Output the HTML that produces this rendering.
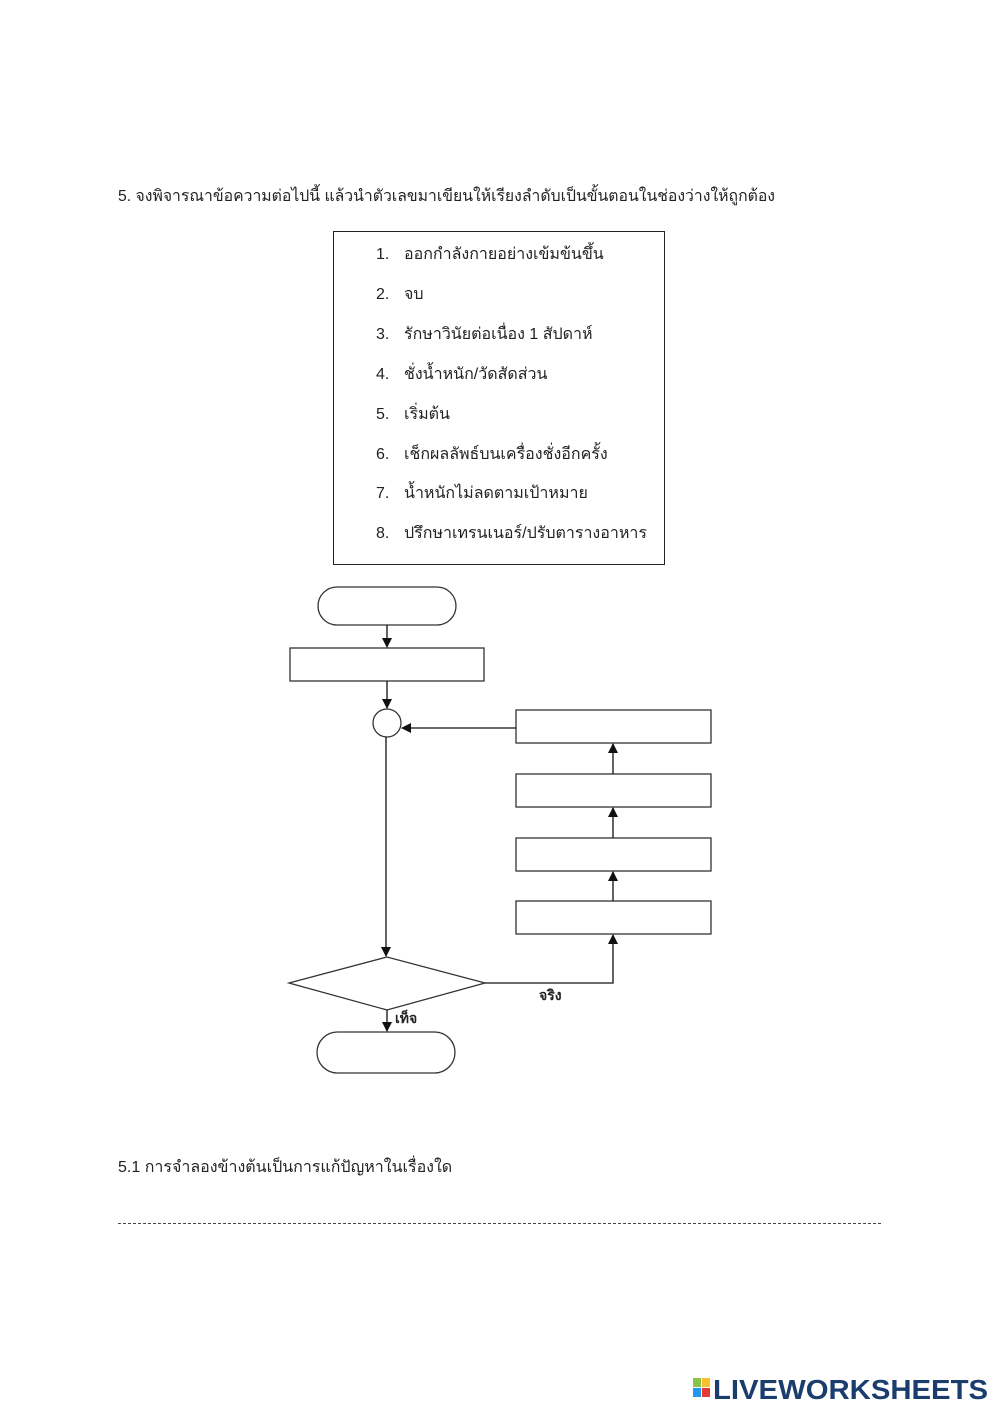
<!DOCTYPE html>
<html><head><meta charset="utf-8"><style>
html,body{margin:0;padding:0;background:#fff;}
svg{display:block;}
text{font-family:"Liberation Sans","DejaVu Sans","Noto Sans CJK SC",sans-serif;fill:#222;}
</style></head><body>
<svg width="1000" height="1414" viewBox="0 0 1000 1414" xmlns="http://www.w3.org/2000/svg">
<defs><marker id="a" markerWidth="10" markerHeight="10" refX="9" refY="5" orient="auto" markerUnits="userSpaceOnUse"><path d="M0,0 L10,5 L0,10 z" fill="#111"/></marker></defs>
<text x="118" y="201" font-size="16" textLength="657" lengthAdjust="spacingAndGlyphs">5. จงพิจารณาข้อความต่อไปนี้ แล้วนำตัวเลขมาเขียนให้เรียงลำดับเป็นขั้นตอนในช่องว่างให้ถูกต้อง</text>
<rect x="333.5" y="231.5" width="331" height="333" fill="none" stroke="#222"/>
<g font-size="16">
<text x="376" y="259">1.</text><text x="404" y="259">ออกกำลังกายอย่างเข้มข้นขึ้น</text>
<text x="376" y="299">2.</text><text x="404" y="299">จบ</text>
<text x="376" y="339">3.</text><text x="404" y="339">รักษาวินัยต่อเนื่อง 1 สัปดาห์</text>
<text x="376" y="379">4.</text><text x="404" y="379">ชั่งน้ำหนัก/วัดสัดส่วน</text>
<text x="376" y="419">5.</text><text x="404" y="419">เริ่มต้น</text>
<text x="376" y="459">6.</text><text x="404" y="459">เช็กผลลัพธ์บนเครื่องชั่งอีกครั้ง</text>
<text x="376" y="498">7.</text><text x="404" y="498">น้ำหนักไม่ลดตามเป้าหมาย</text>
<text x="376" y="538">8.</text><text x="404" y="538">ปรึกษาเทรนเนอร์/ปรับตารางอาหาร</text>
</g>
<g stroke="#333" stroke-width="1.3" fill="#fff">
<rect x="318" y="587" width="138" height="38" rx="19"/>
<rect x="290" y="648" width="194" height="33"/>
<circle cx="387" cy="723" r="14"/>
<rect x="516" y="710" width="195" height="33"/>
<rect x="516" y="774" width="195" height="33"/>
<rect x="516" y="838" width="195" height="33"/>
<rect x="516" y="901" width="195" height="33"/>
<polygon points="289,983 387,957 485,983 387,1010"/>
<rect x="317" y="1032" width="138" height="41" rx="20.5"/>
</g>
<g stroke="#111" stroke-width="1.3" fill="none">
<line x1="387" y1="625" x2="387" y2="647" marker-end="url(#a)"/>
<line x1="387" y1="681" x2="387" y2="708" marker-end="url(#a)"/>
<line x1="386" y1="737" x2="386" y2="956" marker-end="url(#a)"/>
<line x1="387" y1="1010" x2="387" y2="1031" marker-end="url(#a)"/>
<polyline points="485,983 613,983 613,935" marker-end="url(#a)"/>
<line x1="613" y1="901" x2="613" y2="872" marker-end="url(#a)"/>
<line x1="613" y1="838" x2="613" y2="808" marker-end="url(#a)"/>
<line x1="613" y1="774" x2="613" y2="744" marker-end="url(#a)"/>
<line x1="516" y1="728" x2="402" y2="728" marker-end="url(#a)"/>
</g>
<text x="539" y="1000" font-size="14" font-weight="bold">จริง</text>
<text x="395" y="1023" font-size="14" font-weight="bold">เท็จ</text>
<text x="118" y="1172" font-size="16">5.1 การจำลองข้างต้นเป็นการแก้ปัญหาในเรื่องใด</text>
<line x1="118" y1="1223.5" x2="883" y2="1223.5" stroke="#444" stroke-dasharray="3,2"/>
<rect x="693" y="1378" width="8" height="9" fill="#8bc34a"/><rect x="702" y="1378" width="8" height="9" fill="#fbc02d"/>
<rect x="693" y="1388" width="8" height="9" fill="#2196f3"/><rect x="702" y="1388" width="8" height="9" fill="#e53935"/>
<text x="713" y="1399" font-size="28" font-weight="bold" style="fill:#1a3d6d" textLength="275" lengthAdjust="spacingAndGlyphs">LIVEWORKSHEETS</text>
</svg>
</body></html>
